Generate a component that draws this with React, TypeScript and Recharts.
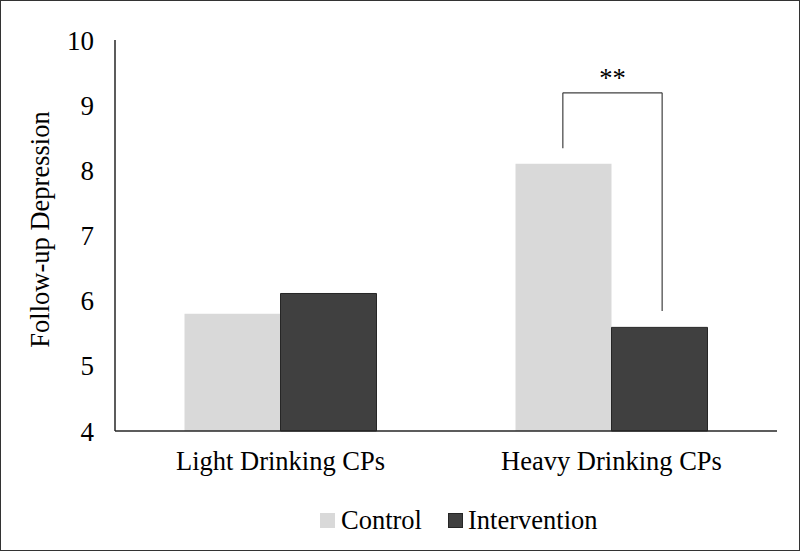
import { BarChart, Bar, XAxis, YAxis, Legend, ReferenceLine } from 'recharts'

const groups = ['Light Drinking CPs', 'Heavy Drinking CPs']
const control = [5.8, 8.1]
const intervention = [6.11, 5.59]
const yTicks = [4, 5, 6, 7, 8, 9, 10]

// significance bracket over the heavy drinking pair (x in band units, y in data units)
const bracketX = [1.353, 1.653]
const bracketTop = 9.19
const bracketLeftEnd = 8.34
const bracketRightEnd = 5.84

const data = groups.map((name, i) => ({ name, control: control[i], intervention: intervention[i], pos: i }))

const FONT = "'Times New Roman', 'Liberation Serif', 'DejaVu Serif', serif"
const INK = '#262626'

const LegendBox = () => (
  <div style={{ display: 'flex', alignItems: 'center', height: 30, paddingLeft: 319, fontFamily: FONT, fontSize: 26.5, color: '#000' }}>
    <span style={{ width: 15, height: 15, background: '#d9d9d9', display: 'inline-block', marginRight: 6 }} />
    <span style={{ marginRight: 26 }}>Control</span>
    <span style={{ width: 15, height: 15, background: '#404040', border: `1px solid ${INK}`, boxSizing: 'border-box', display: 'inline-block', marginRight: 5 }} />
    <span>Intervention</span>
  </div>
)

export default function App() {
  return (
    <div style={{ position: 'absolute', left: 0, top: 0, width: 800, height: 551, border: '1px solid #333', boxSizing: 'border-box', background: '#fff' }}>
      <BarChart
        width={798}
        height={549}
        data={data}
        margin={{ top: 39, right: 22, bottom: 15, left: 0 }}
        barCategoryGap="21%"
        barGap={0}
      >
        <XAxis
          dataKey="name"
          tickLine={false}
          axisLine={{ stroke: INK, strokeWidth: 1.5 }}
          tickMargin={14}
          height={74}
          tick={{ fill: '#000', fontSize: 26.5, fontFamily: FONT }}
        />
        <XAxis xAxisId="b" dataKey="pos" type="number" domain={[0, 2]} allowDataOverflow hide />
        <YAxis
          domain={[4, 10]}
          ticks={yTicks}
          width={114}
          tickLine={false}
          axisLine={{ stroke: INK, strokeWidth: 1.5 }}
          tickMargin={15}
          tick={{ fill: '#000', fontSize: 27, fontFamily: FONT }}
          label={{
            value: 'Follow-up Depression',
            angle: -90,
            position: 'insideLeft',
            offset: 39,
            dy: -6,
            style: { textAnchor: 'middle', fontSize: 26.5, fontFamily: FONT, fill: '#000' },
          }}
        />
        <Legend verticalAlign="bottom" content={<LegendBox />} wrapperStyle={{ left: 0, width: 798 }} />
        <Bar dataKey="control" name="Control" fill="#d9d9d9" isAnimationActive={false} />
        <Bar dataKey="intervention" name="Intervention" fill="#404040" stroke={INK} strokeWidth={1} isAnimationActive={false} />
        <ReferenceLine
          xAxisId="b"
          segment={[{ x: bracketX[0], y: bracketLeftEnd }, { x: bracketX[0], y: bracketTop }]}
          stroke="#404040"
          strokeWidth={1.2}
        />
        <ReferenceLine
          xAxisId="b"
          segment={[{ x: bracketX[0], y: bracketTop }, { x: bracketX[1], y: bracketTop }]}
          stroke="#404040"
          strokeWidth={1.2}
          label={{ value: '**', position: 'top', offset: 6, fontSize: 26.5, fontFamily: FONT, fill: '#000' }}
        />
        <ReferenceLine
          xAxisId="b"
          segment={[{ x: bracketX[1], y: bracketTop }, { x: bracketX[1], y: bracketRightEnd }]}
          stroke="#404040"
          strokeWidth={1.2}
        />
      </BarChart>
    </div>
  )
}
